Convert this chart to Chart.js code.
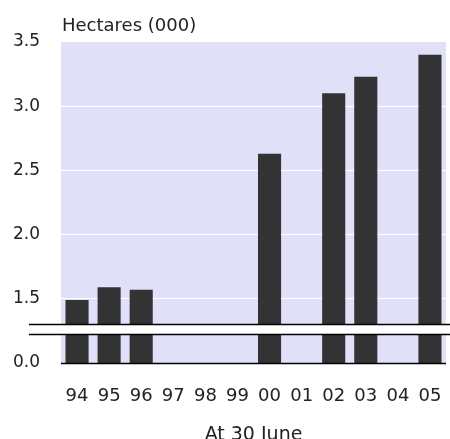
<!DOCTYPE html>
<html>
<head>
<meta charset="utf-8">
<script src="https://cdn.jsdelivr.net/npm/chart.js@4/dist/chart.umd.min.js"></script>
<style>
  html, body { margin: 0; padding: 0; background: #ffffff; }
  canvas { display: block; }
</style>
</head>
<body>
<canvas id="chart" width="450" height="439"></canvas>
<script>
// Land area at 30 June, thousands of hectares
const years = ['94', '95', '96', '97', '98', '99', '00', '01', '02', '03', '04', '05'];
const hectares = [1.49, 1.59, 1.57, null, null, null, 2.63, null, 3.10, 3.23, null, 3.40];

// Broken value axis: the baseline stands for zero, the upper part runs 1.5 to 3.5
const axisBase = 1.0;
const axisTop = 3.5;
const axisStep = 0.5;
const baseLabel = '0.0';
const breakFrom = 1.225;
const breakTo = 1.305;

const unitLabel = 'Hectares (000)';
const xTitle = 'At 30 June';

const FONT = "'DejaVu Sans', Verdana, sans-serif";
const TEXT = '#222222';

const plotBackground = {
  id: 'plotBackground',
  beforeDraw(chart) {
    const { ctx, chartArea: a } = chart;
    ctx.save();
    ctx.fillStyle = '#e0e0f8';
    ctx.fillRect(a.left, a.top, a.right - a.left, a.bottom - a.top);
    ctx.restore();
  }
};

const axisBreak = {
  id: 'axisBreak',
  afterDatasetsDraw(chart) {
    const { ctx, chartArea: a, scales: { y } } = chart;
    const yHi = Math.round(y.getPixelForValue(breakTo)) + 0.5;
    const yLo = Math.round(y.getPixelForValue(breakFrom)) + 0.5;
    const yBase = Math.round(y.getPixelForValue(axisBase)) + 0.5;
    const x0 = a.left - 32;
    ctx.save();
    ctx.fillStyle = '#ffffff';
    ctx.fillRect(x0, yHi, chart.width - x0, yLo - yHi);
    ctx.strokeStyle = '#000000';
    ctx.lineWidth = 1.5;
    ctx.beginPath();
    ctx.moveTo(x0, yHi); ctx.lineTo(chart.width, yHi);
    ctx.moveTo(x0, yLo); ctx.lineTo(chart.width, yLo);
    ctx.moveTo(a.left, yBase); ctx.lineTo(a.right, yBase);
    ctx.stroke();
    ctx.restore();
  }
};

const unitTitle = {
  id: 'unitTitle',
  afterDraw(chart) {
    const { ctx, chartArea: a } = chart;
    ctx.save();
    ctx.font = '18px ' + FONT;
    ctx.fillStyle = TEXT;
    ctx.textAlign = 'left';
    ctx.textBaseline = 'middle';
    ctx.fillText(unitLabel, a.left + 1, a.top - 16);
    ctx.restore();
  }
};

new Chart(document.getElementById('chart'), {
  type: 'bar',
  data: {
    labels: years,
    datasets: [{
      data: hectares,
      backgroundColor: '#333333',
      borderWidth: 0,
      barPercentage: 0.72,
      categoryPercentage: 1.0
    }]
  },
  options: {
    responsive: false,
    animation: false,
    devicePixelRatio: 1,
    layout: { padding: { left: 0, right: 4, top: 42, bottom: 0 } },
    plugins: {
      legend: { display: false },
      tooltip: { enabled: false },
      title: { display: false }
    },
    scales: {
      x: {
        grid: { display: false, drawTicks: false },
        border: { display: false },
        ticks: {
          color: TEXT,
          font: { family: FONT, size: 18 },
          padding: 23,
          maxRotation: 0,
          autoSkip: false
        },
        title: {
          display: true,
          text: xTitle,
          color: TEXT,
          font: { family: FONT, size: 19, lineHeight: 1 },
          padding: { top: 0, bottom: -6 }
        },
        afterFit(scale) {
          scale.height = 76;
          scale.paddingLeft = 0;
          scale.paddingRight = 0;
        }
      },
      y: {
        min: axisBase,
        max: axisTop,
        grid: {
          drawTicks: false,
          lineWidth: 1,
          color: (ctx) => (ctx.tick && ctx.tick.value > axisBase && ctx.tick.value < axisTop) ? '#ffffff' : 'rgba(0,0,0,0)'
        },
        border: { display: false },
        ticks: {
          stepSize: axisStep,
          color: TEXT,
          font: { family: FONT, size: 17 },
          padding: 21,
          callback: (v) => (v === axisBase ? baseLabel : Number(v).toFixed(1))
        },
        afterFit(scale) { scale.width = 61; }
      }
    }
  },
  plugins: [plotBackground, axisBreak, unitTitle]
});
</script>
</body>
</html>
